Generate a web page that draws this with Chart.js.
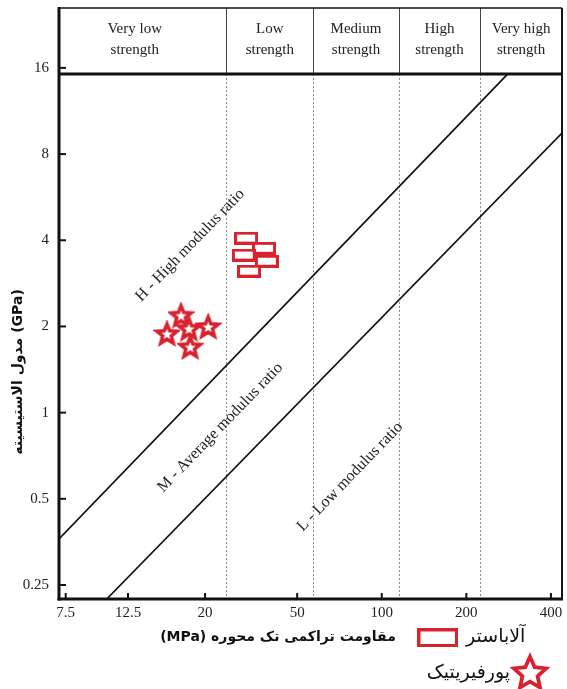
<!DOCTYPE html>
<html>
<head>
<meta charset="utf-8">
<script src="https://cdn.jsdelivr.net/npm/chart.js@4.4.1/dist/chart.umd.min.js"></script>
<style>
  html, body { margin: 0; padding: 0; background: #fff; }
  #wrap { width: 567px; height: 689px; }
</style>
</head>
<body>
<div id="wrap"><canvas id="chart" width="567" height="689"></canvas></div>
<script>
// strength classes (header band) and their boundaries in MPa
const strengthClasses = [["Very low", "strength"], ["Low", "strength"], ["Medium", "strength"], ["High", "strength"], ["Very high", "strength"]];
const classBounds = [28, 57, 115, 224];

// ticks
const xTickValues = [7.5, 12.5, 23.5, 50, 100, 200, 400];
const xTickLabels = ["7.5", "12.5", "20", "50", "100", "200", "400"];
const yTickValues = [0.25, 0.5, 1, 2, 4, 8, 16];
const yTickLabels = ["0.25", "0.5", "1", "2", "4", "8", "16"];

// modulus ratio boundary lines (end points)
const highLineUCS = [7.1, 281];
const highLineE = [0.362, 15.24];
const lowLineUCS = [10.5, 438];
const lowLineE = [0.2234, 9.48];

const ratioLabels = ["H - High modulus ratio", "M - Average modulus ratio", "L - Low modulus ratio"];
const ratioLabelUCS = [20.8, 26.6, 77.1];
const ratioLabelE = [3.84, 0.887, 0.597];

// samples
const alabasterUCS = [32.9, 38.1, 32.3, 39.0, 33.7];
const alabasterE = [4.07, 3.75, 3.55, 3.38, 3.12];
const porphyryUCS = [19.3, 17.2, 20.6, 24.1, 20.8];
const porphyryE = [2.19, 1.89, 1.97, 2.0, 1.70];

const seriesNames = ["آلاباستر", "پورفیریتیک"];
const xTitle = "(MPa) مقاومت تراکمی تک محوره";
const yTitle = "مدول الاستیسیته (GPa)";

const xMin = 7.1, xMax = 438, yMin = 0.2234, yMax = 25.9, headerE = 15.24;
const RED = "#d8232f";
const SERIF = "'Liberation Serif', 'DejaVu Serif', serif";
const FA = "'DejaVu Sans', sans-serif";

function makeStar(R, r, lw) {
    let s = Math.ceil(2 * R + lw + 2);
    let c = document.createElement("canvas");
    c.width = s; c.height = s;
    let g = c.getContext("2d");
    g.translate(s / 2, s / 2 + R * 0.1);
    g.beginPath();
    for (let i = 0; i < 10; i++) {
        let rad = i % 2 ? r : R;
        let a = -Math.PI / 2 + i * Math.PI / 5;
        g.lineTo(rad * Math.cos(a), rad * Math.sin(a));
    }
    g.closePath();
    g.fillStyle = "#fff"; g.fill();
    g.lineWidth = lw; g.strokeStyle = RED; g.lineJoin = "miter"; g.stroke();
    return c;
}

function makeRect(w, h, lw) {
    let c = document.createElement("canvas");
    c.width = w + lw; c.height = h + lw;
    let g = c.getContext("2d");
    g.fillStyle = "#fff"; g.fillRect(lw / 2, lw / 2, w, h);
    g.lineWidth = lw; g.strokeStyle = RED;
    g.strokeRect(lw / 2, lw / 2, w, h);
    return c;
}

const rectImg = makeRect(21, 10, 3);
const starImg = makeStar(10.5, 4.6, 3.6);
const rectLegend = makeRect(38, 16, 3.5);
const starLegend = makeStar(17, 8, 3.8);

// frame, header band, dotted class lines, inward ticks, labels and legend
const framePlugin = {
    id: "frame",
    beforeDatasetsDraw(chart) {
        let { ctx, chartArea: a, scales: { x, y } } = chart;
        let hb = y.getPixelForValue(headerE);
        ctx.save();
        ctx.strokeStyle = "#8a8a8a";
        ctx.lineWidth = 1;
        ctx.setLineDash([2, 2]);
        classBounds.forEach(v => {
            let px = Math.round(x.getPixelForValue(v)) + 0.5;
            ctx.beginPath(); ctx.moveTo(px, hb); ctx.lineTo(px, a.bottom); ctx.stroke();
        });
        ctx.restore();
    },
    afterDatasetsDraw(chart) {
        let { ctx, chartArea: a, scales: { x, y } } = chart;
        let hb = y.getPixelForValue(headerE);
        ctx.save();

        // header band
        ctx.fillStyle = "#fff";
        ctx.fillRect(a.left, a.top, a.right - a.left, hb - a.top);
        let edges = [a.left, ...classBounds.map(v => x.getPixelForValue(v)), a.right];
        ctx.strokeStyle = "#444"; ctx.lineWidth = 1;
        classBounds.forEach(v => {
            let px = Math.round(x.getPixelForValue(v)) + 0.5;
            ctx.beginPath(); ctx.moveTo(px, a.top); ctx.lineTo(px, hb); ctx.stroke();
        });
        ctx.fillStyle = "#222";
        ctx.font = "15px " + SERIF;
        ctx.textAlign = "center"; ctx.textBaseline = "middle";
        strengthClasses.forEach((lines, i) => {
            let cx = (edges[i] + edges[i + 1]) / 2;
            if (i === 0) cx -= 8;
            ctx.fillText(lines[0], cx, a.top + 21);
            ctx.fillText(lines[1], cx, a.top + 42);
        });

        // box lines
        ctx.strokeStyle = "#111";
        ctx.lineWidth = 1.5;
        ctx.beginPath(); ctx.moveTo(a.left, a.top); ctx.lineTo(a.right, a.top); ctx.stroke();
        ctx.lineWidth = 2;
        ctx.beginPath(); ctx.moveTo(a.right, a.top); ctx.lineTo(a.right, a.bottom); ctx.stroke();
        ctx.lineWidth = 3;
        ctx.beginPath(); ctx.moveTo(a.left, hb); ctx.lineTo(a.right, hb); ctx.stroke();
        ctx.beginPath(); ctx.moveTo(a.left, a.top - 1); ctx.lineTo(a.left, a.bottom + 1.5); ctx.stroke();
        ctx.beginPath(); ctx.moveTo(a.left - 1.5, a.bottom); ctx.lineTo(a.right + 1, a.bottom); ctx.stroke();

        // inward tick marks
        ctx.lineWidth = 2;
        x.ticks.forEach(t => {
            let px = x.getPixelForValue(t.value);
            ctx.beginPath(); ctx.moveTo(px, a.bottom); ctx.lineTo(px, a.bottom - 6); ctx.stroke();
        });
        y.ticks.forEach(t => {
            let py = y.getPixelForValue(t.value);
            ctx.beginPath(); ctx.moveTo(a.left, py); ctx.lineTo(a.left + 7, py); ctx.stroke();
        });

        // modulus ratio labels, rotated along the lines
        let ang = Math.atan2(
            y.getPixelForValue(highLineE[1]) - y.getPixelForValue(highLineE[0]),
            x.getPixelForValue(highLineUCS[1]) - x.getPixelForValue(highLineUCS[0]));
        ctx.fillStyle = "#222";
        ctx.font = "16px " + SERIF;
        ratioLabels.forEach((txt, i) => {
            ctx.save();
            ctx.translate(x.getPixelForValue(ratioLabelUCS[i]), y.getPixelForValue(ratioLabelE[i]));
            ctx.rotate(ang);
            ctx.fillText(txt, 0, 0);
            ctx.restore();
        });

        // axis titles
        ctx.fillStyle = "#111";
        ctx.font = "bold 14px " + FA;
        ctx.fillText(xTitle, 278, 637);
        ctx.save();
        ctx.translate(18, 372);
        ctx.rotate(-Math.PI / 2);
        ctx.fillText(yTitle, 0, 0);
        ctx.restore();

        // legend
        ctx.drawImage(rectLegend, 417, 628);
        ctx.font = "19px " + FA;
        ctx.textAlign = "left";
        ctx.fillText(seriesNames[0], 466, 637);
        ctx.textAlign = "right";
        ctx.fillText(seriesNames[1], 510, 673);
        ctx.drawImage(starLegend, 530 - starLegend.width / 2, 672 - starLegend.height / 2);
        ctx.restore();
    }
};

function loadChart() {
    let ctx = document.getElementById("chart").getContext("2d");
    new Chart(ctx, {
        type: "scatter",
        data: {
            datasets: [
                {
                    type: "line",
                    data: highLineUCS.map((v, i) => ({ x: v, y: highLineE[i] })),
                    borderColor: "#111", borderWidth: 1.7, pointRadius: 0, fill: false
                },
                {
                    type: "line",
                    data: lowLineUCS.map((v, i) => ({ x: v, y: lowLineE[i] })),
                    borderColor: "#111", borderWidth: 1.7, pointRadius: 0, fill: false
                },
                {
                    label: seriesNames[0],
                    data: alabasterUCS.map((v, i) => ({ x: v, y: alabasterE[i] })),
                    pointStyle: rectImg
                },
                {
                    label: seriesNames[1],
                    data: porphyryUCS.map((v, i) => ({ x: v, y: porphyryE[i] })),
                    pointStyle: starImg
                }
            ]
        },
        options: {
            responsive: false,
            animation: false,
            layout: { padding: { top: 8, right: 5, left: 0, bottom: 0 } },
            plugins: { legend: { display: false }, tooltip: { enabled: false } },
            scales: {
                x: {
                    type: "logarithmic", min: xMin, max: xMax,
                    afterFit: s => { s.height = 90; s.paddingLeft = 0; s.paddingRight = 0; },
                    afterBuildTicks: s => { s.ticks = xTickValues.map(v => ({ value: v })); },
                    grid: { display: false, drawTicks: false },
                    border: { display: false },
                    ticks: {
                        callback: (v, i) => xTickLabels[i],
                        font: { family: SERIF, size: 15 }, color: "#222",
                        padding: 5, maxRotation: 0, autoSkip: false
                    }
                },
                y: {
                    type: "logarithmic", min: yMin, max: yMax,
                    afterFit: s => { s.width = 59; s.paddingTop = 0; s.paddingBottom = 0; },
                    afterBuildTicks: s => { s.ticks = yTickValues.map(v => ({ value: v })); },
                    grid: { display: false, drawTicks: false },
                    border: { display: false },
                    ticks: {
                        callback: (v, i) => yTickLabels[i],
                        font: { family: SERIF, size: 15 }, color: "#222",
                        padding: 10, autoSkip: false
                    }
                }
            }
        },
        plugins: [framePlugin]
    });
}

document.addEventListener("DOMContentLoaded", loadChart);
</script>
</body>
</html>
